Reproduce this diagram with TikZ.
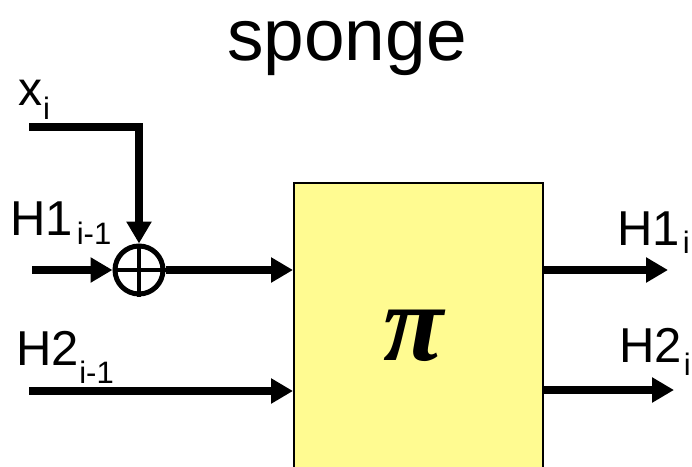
\documentclass[tikz,border=0pt]{standalone}
\usepackage{fontspec}
\setmainfont{Liberation Sans}
\newfontfamily\pifont{Liberation Serif}
\usetikzlibrary{arrows.meta}
\definecolor{boxyellow}{RGB}{255,251,145}
\newcommand{\subtxt}[2]{\raisebox{#1}{\fontsize{31}{31}\selectfont #2}}
\begin{document}
\begin{tikzpicture}[x=1pt,y=-1pt,
  wire/.style={line width=7.5pt, line join=miter},
  arr/.style={wire, -{Triangle[length=22pt,width=24pt]}},
  lbl/.style={inner sep=0pt, anchor=base west, font=\fontsize{49}{49}\selectfont}]
\useasboundingbox (0,0) rectangle (692,466);
% title
\node[inner sep=0pt, anchor=base, font=\fontsize{73}{73}\selectfont] (title) at (347,60) {sponge};
% permutation box
\node[draw, line width=2pt, fill=boxyellow, minimum width=249pt, minimum height=300pt, anchor=north west, inner sep=0pt] (box) at (293,182) {};
\node[inner sep=0pt, font=\pifont\bfseries\itshape\fontsize{110}{110}\selectfont] (pi) at (414,336) {π};
% xor
\node[draw, circle, line width=5pt, minimum size=48pt, inner sep=0pt] (xor) at (139,270) {};
\draw[line width=4pt] (xor.north) -- (xor.south);
\draw[line width=4pt] (xor.west) -- (xor.east);
% free ends
\coordinate (xs) at (29,127);
\coordinate (xc) at (139,127);
\coordinate (h1s) at (32,270);
\coordinate (h2s) at (29,391);
\coordinate (o1) at (668,270);
\coordinate (o2) at (674,390);
% connectors
\draw[arr] (xs) -- (xc) -- (xor.north);
\draw[arr] (h1s) -- (xor.west);
\draw[arr] (xor.east) -- (box.west |- xor);
\draw[arr] (h2s) -- (box.west |- h2s);
\draw[arr] (box.east |- o1) -- (o1);
\draw[arr] (box.east |- o2) -- (o2);
% labels
\node[lbl, font=\fontsize{48}{48}\selectfont] (lx) at (18,105) {x\kern1pt\subtxt{-14pt}{i}};
\node[lbl] (lh1in) at (10,235) {H1\kern4pt\subtxt{-9pt}{i-1}};
\node[lbl] (lh2in) at (16,365) {H2\kern0.5pt\subtxt{-18pt}{i-1}};
\node[lbl] (lh1out) at (617,245) {H1\kern3pt\subtxt{-8pt}{i}};
\node[lbl] (lh2out) at (619,362) {H2\kern2pt\subtxt{-13pt}{i}};
\end{tikzpicture}
\end{document}
